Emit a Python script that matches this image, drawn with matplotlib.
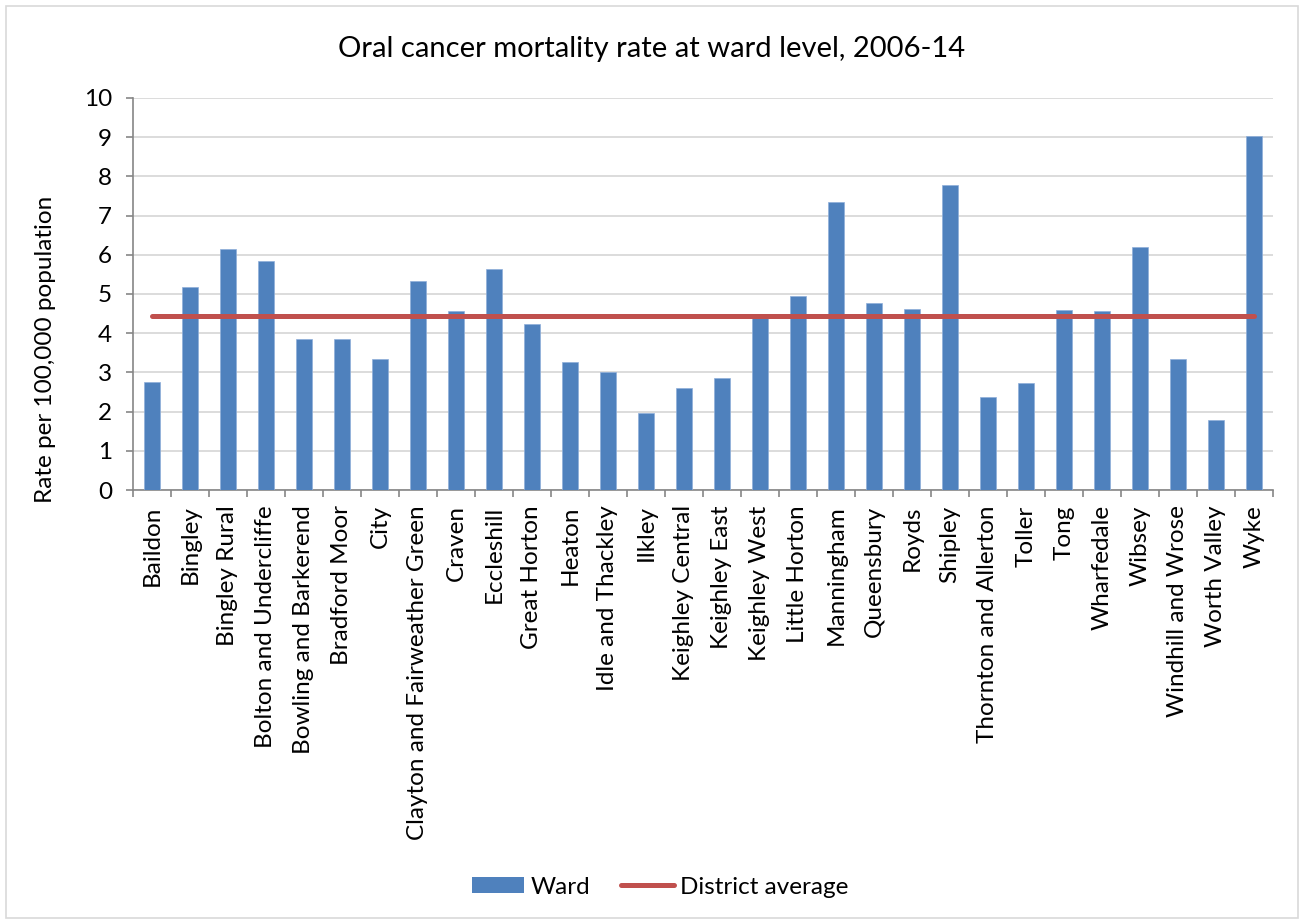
import matplotlib
matplotlib.use("Agg")
import matplotlib.pyplot as plt
import numpy as np
from matplotlib.patches import Rectangle
from matplotlib.lines import Line2D

plt.rcParams["font.family"] = ["Lato", "DejaVu Sans"]

wards = [
    "Baildon", "Bingley", "Bingley Rural", "Bolton and Undercliffe",
    "Bowling and Barkerend", "Bradford Moor", "City",
    "Clayton and Fairweather Green", "Craven", "Eccleshill", "Great Horton",
    "Heaton", "Idle and Thackley", "Ilkley", "Keighley Central",
    "Keighley East", "Keighley West", "Little Horton", "Manningham",
    "Queensbury", "Royds", "Shipley", "Thornton and Allerton", "Toller",
    "Tong", "Wharfedale", "Wibsey", "Windhill and Wrose", "Worth Valley",
    "Wyke",
]
ward_rate = [
    2.76, 5.18, 6.14, 5.84, 3.84, 3.86, 3.33, 5.32, 4.57, 5.65, 4.24,
    3.27, 3.01, 1.97, 2.59, 2.86, 4.42, 4.95, 7.34, 4.76, 4.61, 7.77,
    2.38, 2.74, 4.58, 4.57, 6.19, 3.34, 1.79, 9.03,
]
district_average = 4.44

C_BAR = "#4F81BD"
C_LINE = "#C0504D"
C_GRID = "#D9D9D9"
C_AXIS = "#868686"

W, H = 1304, 922
fig = plt.figure(figsize=(W / 100, H / 100), dpi=100)
fig.patch.set_facecolor("white")

# outer chart frame
fig.add_artist(Rectangle((6 / W, 4 / H), 1292 / W, 912 / H,
                         transform=fig.transFigure, fill=False,
                         edgecolor=C_GRID, linewidth=1.2))

ax = fig.add_axes([133 / W, 1 - 490 / H, 1140 / W, 392 / H])

x = np.arange(len(wards))
ax.bar(x, ward_rate, width=0.4, color=C_BAR, edgecolor="#8FAEDA",
       linewidth=0.5, zorder=3, label="Ward")
ax.plot(x, [district_average] * len(wards), color=C_LINE, linewidth=3.6,
        solid_capstyle="round", zorder=4, label="District average")

ax.set_xlim(-0.5, len(wards) - 0.5)
ax.set_ylim(0, 10)
ax.set_yticks(range(0, 11))
ax.yaxis.grid(True, color=C_GRID, linewidth=1.3, zorder=0)
ax.set_axisbelow(True)

for side in ("top", "right"):
    ax.spines[side].set_visible(False)
for side in ("left", "bottom"):
    ax.spines[side].set_color(C_AXIS)
    ax.spines[side].set_linewidth(1.2)

# category labels at bar centres, tick marks at category boundaries
ax.set_xticks(x)
ax.set_xticklabels(wards, rotation=90, fontsize=17.5)
ax.set_xticks(np.arange(-0.5, len(wards)), minor=True)
ax.tick_params(axis="x", which="major", length=0, pad=11)
ax.tick_params(axis="x", which="minor", length=5, width=1.2, color=C_AXIS,
               direction="out")
ax.tick_params(axis="y", length=5, width=1.2, color=C_AXIS, pad=10,
               labelsize=17.5)

ax.set_ylabel("Rate per 100,000 population", fontsize=17.5)
ax.yaxis.set_label_coords(-77 / 1140, 0.36)

fig.text(0.5, 1 - 57 / H, "Oral cancer mortality rate at ward level, 2006-14",
         ha="center", va="baseline", fontsize=21)

handles = [
    Rectangle((0, 0), 1, 1, facecolor=C_BAR, edgecolor="none"),
    Line2D([0], [0], color=C_LINE, linewidth=3.6, solid_capstyle="round"),
]
fig.legend(handles, ["Ward", "District average"], loc="center",
           bbox_to_anchor=(660 / W, 1 - 887 / H), ncol=2, frameon=False,
           fontsize=17.5, handlelength=2.15, handleheight=0.6,
           handletextpad=0.25, columnspacing=1.3)

fig.savefig("out.png", dpi=100, facecolor="white")
